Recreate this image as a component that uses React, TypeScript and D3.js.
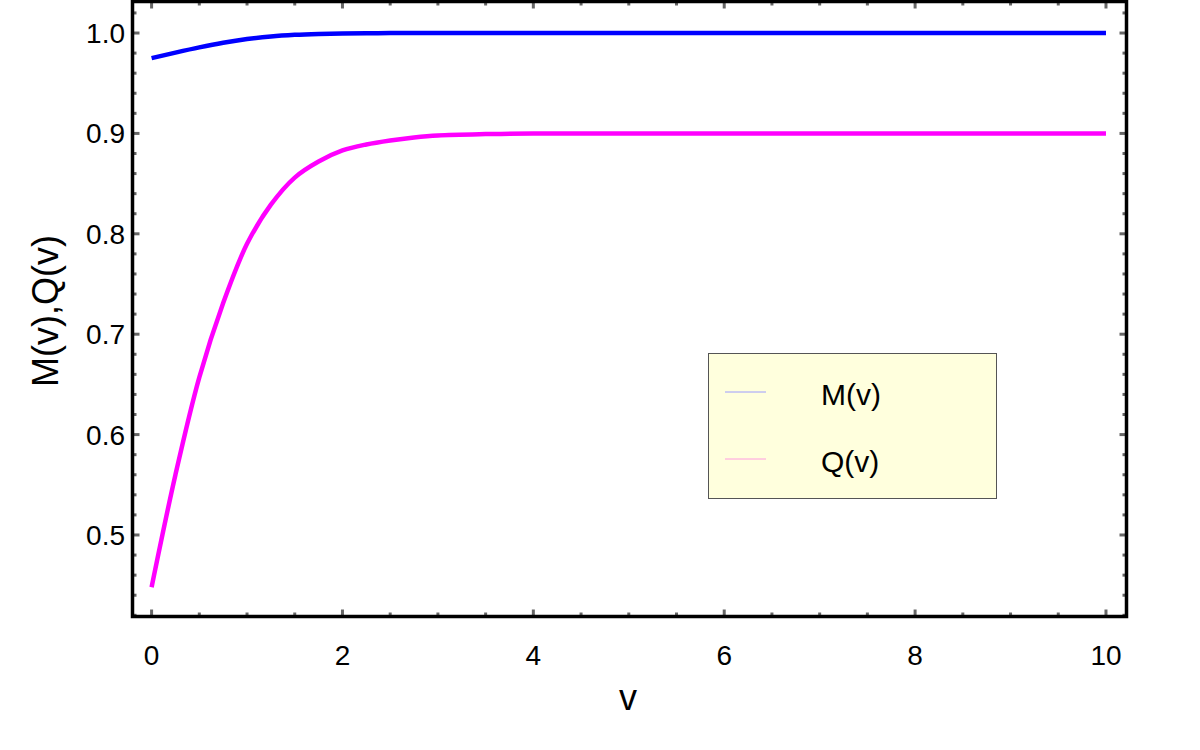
import React from "react";
import * as d3 from "d3";

const vValues = [0, 0.25, 0.5, 0.75, 1, 1.25, 1.5, 1.75, 2, 2.25, 2.5, 2.75, 3, 3.5, 4, 5, 6, 7, 8, 9, 10];
const mValues = [0.975, 0.9805, 0.9857, 0.9903, 0.994, 0.9966, 0.9982, 0.9991, 0.9996, 0.9998, 0.9999, 1, 1, 1, 1, 1, 1, 1, 1, 1, 1];
const qValues = [0.448, 0.56, 0.657, 0.731, 0.79, 0.829, 0.856, 0.872, 0.883, 0.889, 0.893, 0.896, 0.898, 0.8993, 0.8998, 0.9, 0.9, 0.9, 0.9, 0.9, 0.9];

const xMajorTicks = [0, 2, 4, 6, 8, 10];
const xTickLabels = ["0", "2", "4", "6", "8", "10"];
const yMajorTicks = [0.5, 0.6, 0.7, 0.8, 0.9, 1.0];
const yTickLabels = ["0.5", "0.6", "0.7", "0.8", "0.9", "1.0"];

const seriesNames = ["M(v)", "Q(v)"];
const seriesColors = ["#0000ff", "#ff00ff"];
const legendColors = ["#9c9cff", "#ff9ce0"];

const FONT = "'Liberation Sans', Arial, Helvetica, sans-serif";

export default function App() {
  const W = 1200;
  const H = 750;
  const x = d3.scaleLinear().domain([-0.2, 10.215]).range([132.5, 1126.5]);
  const y = d3.scaleLinear().domain([0.4188, 1.0314]).range([616.5, 1.5]);

  const [x0, x1] = x.range();
  const [y0, y1] = y.range();

  const xMinor = d3.range(0, 10.01, 0.5).filter((v) => Math.abs(v / 2 - Math.round(v / 2)) > 1e-6);
  const yMinor = d3
    .range(42, 103, 2)
    .map((v) => v / 100)
    .filter((v) => Math.abs(v * 10 - Math.round(v * 10)) > 1e-6);

  const line = d3
    .line<number>()
    .x((_, i) => x(vValues[i]))
    .y((d) => y(d))
    .curve(d3.curveCatmullRom.alpha(0.5));

  const tickColor = "#666666";

  return (
    <svg
      width={W}
      height={H}
      style={{ position: "absolute", left: 0, top: 0, background: "#fff" }}
      fontFamily={FONT}
    >
      <rect x={0} y={0} width={W} height={H} fill="#fff" />
      {/* ticks */}
      <g stroke={tickColor} strokeWidth={3}>
        {xMajorTicks.map((v) => (
          <g key={"xM" + v}>
            <line x1={x(v)} x2={x(v)} y1={y0} y2={y0 - 7} />
            <line x1={x(v)} x2={x(v)} y1={y1} y2={y1 + 7} />
          </g>
        ))}
        {xMinor.map((v) => (
          <g key={"xm" + v}>
            <line x1={x(v)} x2={x(v)} y1={y0} y2={y0 - 4} />
            <line x1={x(v)} x2={x(v)} y1={y1} y2={y1 + 4} />
          </g>
        ))}
        {yMajorTicks.map((v) => (
          <g key={"yM" + v}>
            <line x1={x0} x2={x0 + 7} y1={y(v)} y2={y(v)} />
            <line x1={x1} x2={x1 - 7} y1={y(v)} y2={y(v)} />
          </g>
        ))}
        {yMinor.map((v) => (
          <g key={"ym" + v}>
            <line x1={x0} x2={x0 + 4} y1={y(v)} y2={y(v)} />
            <line x1={x1} x2={x1 - 4} y1={y(v)} y2={y(v)} />
          </g>
        ))}
      </g>

      {/* curves */}
      <path d={line(mValues) || ""} fill="none" stroke={seriesColors[0]} strokeWidth={4.5} />
      <path d={line(qValues) || ""} fill="none" stroke={seriesColors[1]} strokeWidth={4.5} />

      {/* frame */}
      <rect x={x0} y={y1} width={x1 - x0} height={y0 - y1} fill="none" stroke="#000" strokeWidth={3.5} />

      {/* tick labels */}
      {xMajorTicks.map((v, i) => (
        <text key={"xl" + v} x={x(v)} y={665} textAnchor="middle" fontSize={28} fill="#000">
          {xTickLabels[i]}
        </text>
      ))}
      {yMajorTicks.map((v, i) => (
        <text key={"yl" + v} x={125} y={y(v) + 10} textAnchor="end" fontSize={28} fill="#000">
          {yTickLabels[i]}
        </text>
      ))}

      {/* axis titles */}
      <text x={628} y={710} textAnchor="middle" fontSize={36} fill="#000">
        v
      </text>
      <text
        transform={`translate(58, 311) rotate(-90)`}
        textAnchor="middle"
        fontSize={36}
        fill="#000"
      >
        M(v),Q(v)
      </text>

      {/* legend */}
      <rect x={708.5} y={353.5} width={288} height={145} fill="#ffffdd" stroke="#555" strokeWidth={1} />
      {seriesNames.map((name, i) => (
        <g key={name}>
          <line x1={725} x2={766} y1={392 + i * 67} y2={392 + i * 67} stroke={legendColors[i]} strokeWidth={1} />
          <text x={821} y={405 + i * 67} fontSize={30} fill="#000">
            {name}
          </text>
        </g>
      ))}
    </svg>
  );
}
